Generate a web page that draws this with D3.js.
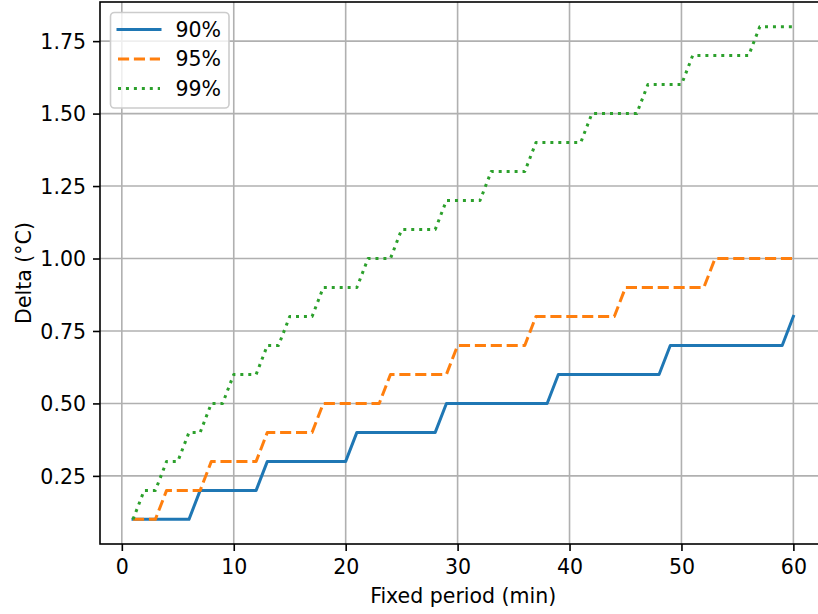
<!DOCTYPE html>
<html>
<head>
<meta charset="utf-8">
<script src="https://cdn.jsdelivr.net/npm/d3@7"></script>
<style>
  html, body { margin: 0; padding: 0; background: #fff; }
  svg { display: block; font-family: "DejaVu Sans", sans-serif; }
</style>
</head>
<body>
<svg id="chart" width="818" height="614"></svg>
<script>
// ---- data ----
const periods = d3.range(1, 61); // 1..60 minutes
const delta90 = [0.1,0.1,0.1,0.1,0.1,0.1,0.2,0.2,0.2,0.2,0.2,0.2,0.3,0.3,0.3,0.3,0.3,0.3,0.3,0.3,
                 0.4,0.4,0.4,0.4,0.4,0.4,0.4,0.4,0.5,0.5,0.5,0.5,0.5,0.5,0.5,0.5,0.5,0.5,0.6,0.6,
                 0.6,0.6,0.6,0.6,0.6,0.6,0.6,0.6,0.7,0.7,0.7,0.7,0.7,0.7,0.7,0.7,0.7,0.7,0.7,0.8];
const delta95 = [0.1,0.1,0.1,0.2,0.2,0.2,0.2,0.3,0.3,0.3,0.3,0.3,0.4,0.4,0.4,0.4,0.4,0.5,0.5,0.5,
                 0.5,0.5,0.5,0.6,0.6,0.6,0.6,0.6,0.6,0.7,0.7,0.7,0.7,0.7,0.7,0.7,0.8,0.8,0.8,0.8,
                 0.8,0.8,0.8,0.8,0.9,0.9,0.9,0.9,0.9,0.9,0.9,0.9,1.0,1.0,1.0,1.0,1.0,1.0,1.0,1.0];
const delta99 = [0.1,0.2,0.2,0.3,0.3,0.4,0.4,0.5,0.5,0.6,0.6,0.6,0.7,0.7,0.8,0.8,0.8,0.9,0.9,0.9,
                 0.9,1.0,1.0,1.0,1.1,1.1,1.1,1.1,1.2,1.2,1.2,1.2,1.3,1.3,1.3,1.3,1.4,1.4,1.4,1.4,
                 1.4,1.5,1.5,1.5,1.5,1.5,1.6,1.6,1.6,1.6,1.7,1.7,1.7,1.7,1.7,1.7,1.8,1.8,1.8,1.8];
const seriesNames = ["90%", "95%", "99%"];
const xTicks = [0, 10, 20, 30, 40, 50, 60];
const yTicks = [0.25, 0.50, 0.75, 1.00, 1.25, 1.50, 1.75];
const xLabel = "Fixed period (min)";
const yLabel = "Delta (°C)";

// ---- styles ----
const colors = ["#1f77b4", "#ff7f0e", "#2ca02c"];
const dashes = [null, "11.1,4.8", "3,4.95"];
const FS = 20.5;

const svg = d3.select("#chart");
const pL = 100, pR = 826.4, pT = 2, pB = 544;

const x = d3.scaleLinear().domain([-1.95, 62.95]).range([pL, pR]);
const y = d3.scaleLinear().domain([0.015, 1.885]).range([pB, pT]);

// grid
const grid = svg.append("g");
grid.selectAll("line.vx").data(xTicks).join("line")
  .attr("x1", d => x(d)).attr("x2", d => x(d)).attr("y1", pT).attr("y2", pB)
  .attr("stroke", "#b0b0b0").attr("stroke-width", 1.6);
grid.selectAll("line.hy").data(yTicks).join("line")
  .attr("y1", d => y(d)).attr("y2", d => y(d)).attr("x1", pL).attr("x2", pR)
  .attr("stroke", "#b0b0b0").attr("stroke-width", 1.6);

// lines
const series = [delta90, delta95, delta99];
const line = d3.line().x((d, i) => x(periods[i])).y(d => y(d));
series.forEach((vals, k) => {
  svg.append("path").datum(vals)
    .attr("d", line)
    .attr("fill", "none")
    .attr("stroke", colors[k])
    .attr("stroke-width", 3)
    .attr("stroke-linejoin", "round")
    .attr("stroke-linecap", k === 0 ? "square" : "butt")
    .attr("stroke-dasharray", dashes[k]);
});

// axes
const xAxis = d3.axisBottom(x).tickValues(xTicks).tickSize(7).tickPadding(7).tickFormat(d3.format("d"));
const yAxis = d3.axisLeft(y).tickValues(yTicks).tickSize(7).tickPadding(7).tickFormat(d3.format(".2f"));

const gx = svg.append("g").attr("transform", `translate(0,${pB})`).call(xAxis);
const gy = svg.append("g").attr("transform", `translate(${pL},0)`).call(yAxis);
[gx, gy].forEach(g => {
  g.select(".domain").remove();
  g.selectAll(".tick line").attr("stroke", "#000").attr("stroke-width", 1.6);
  g.selectAll(".tick text").attr("fill", "#000").attr("font-size", FS)
    .attr("font-family", "DejaVu Sans");
});
gx.selectAll(".tick text").attr("dy", null).attr("y", 29.8);
gy.selectAll(".tick text").attr("dy", "0.36em");

// spines
svg.append("rect").attr("x", pL).attr("y", pT)
  .attr("width", pR - pL).attr("height", pB - pT)
  .attr("fill", "none").attr("stroke", "#000").attr("stroke-width", 1.6)
  .attr("stroke-linejoin", "miter");

// axis labels
svg.append("text").attr("x", (pL + pR) / 2).attr("y", 602.5)
  .attr("text-anchor", "middle").attr("font-size", FS).attr("fill", "#000")
  .text(xLabel);
svg.append("text")
  .attr("transform", `translate(31,${(pT + pB) / 2}) rotate(-90)`)
  .attr("text-anchor", "middle").attr("font-size", FS).attr("fill", "#000")
  .text(yLabel);

// legend
const lg = svg.append("g");
lg.append("rect").attr("x", 110.5).attr("y", 12.5).attr("width", 118.5).attr("height", 95.5)
  .attr("rx", 4).attr("ry", 4)
  .attr("fill", "#fff").attr("fill-opacity", 0.8)
  .attr("stroke", "#cccccc").attr("stroke-width", 1.6);
seriesNames.forEach((name, k) => {
  const cy = 29.5 + k * 29.5;
  lg.append("line").attr("x1", 118).attr("x2", 160).attr("y1", cy).attr("y2", cy)
    .attr("stroke", colors[k]).attr("stroke-width", 3)
    .attr("stroke-linecap", k === 0 ? "square" : "butt")
    .attr("stroke-dasharray", dashes[k]);
  lg.append("text").attr("x", 175.5).attr("y", cy).attr("dy", "0.36em")
    .attr("font-size", FS).attr("fill", "#000").text(name);
});
</script>
</body>
</html>
